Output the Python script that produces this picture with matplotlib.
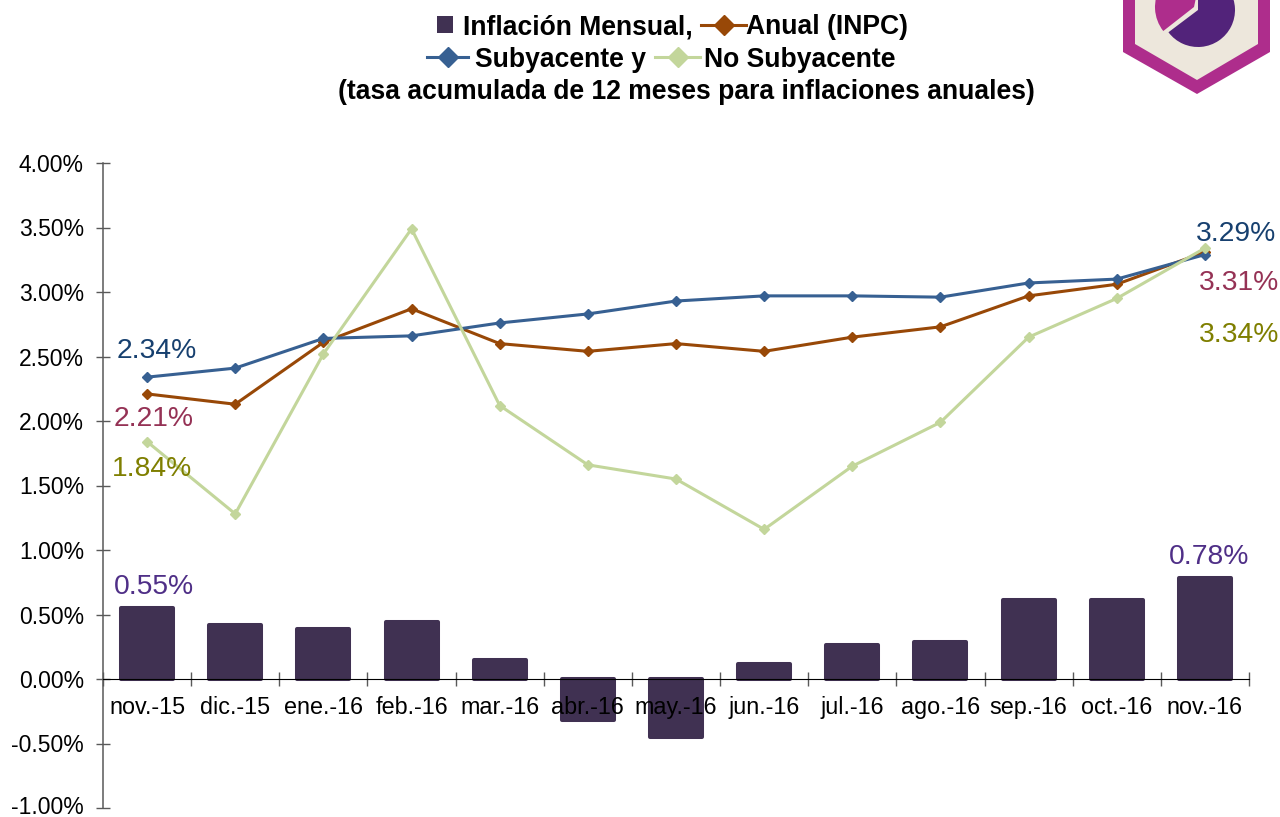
#!/usr/bin/env python3
"""Inflacion mensual y anual, nov-15 a nov-16."""
import matplotlib
matplotlib.use('Agg')
import matplotlib.pyplot as plt
from matplotlib.patches import Polygon, Wedge, Rectangle

plt.rcParams['font.family'] = ['Liberation Sans', 'DejaVu Sans']

meses = ['nov.-15', 'dic.-15', 'ene.-16', 'feb.-16', 'mar.-16', 'abr.-16', 'may.-16',
         'jun.-16', 'jul.-16', 'ago.-16', 'sep.-16', 'oct.-16', 'nov.-16']
mensual = [0.55, 0.42, 0.39, 0.44, 0.15, -0.32, -0.45, 0.12, 0.26, 0.29, 0.61, 0.61, 0.78]
anual = [2.21, 2.13, 2.61, 2.87, 2.60, 2.54, 2.60, 2.54, 2.65, 2.73, 2.97, 3.06, 3.31]
subyacente = [2.34, 2.41, 2.64, 2.66, 2.76, 2.83, 2.93, 2.97, 2.97, 2.96, 3.07, 3.10, 3.29]
no_subyacente = [1.84, 1.28, 2.52, 3.49, 2.12, 1.66, 1.55, 1.16, 1.65, 1.99, 2.65, 2.95, 3.34]
yticks = [-1, -0.5, 0, 0.5, 1, 1.5, 2, 2.5, 3, 3.5, 4]

W, H = 1280, 817
C_BAR, C_ANUAL, C_SUB, C_NOSUB = '#403152', '#984807', '#376092', '#C3D69B'

fig = plt.figure(figsize=(W/100, H/100), dpi=100)
ax = fig.add_axes([103/W, 1-808/H, (1249-103)/W, (808-163)/H])
x = list(range(len(meses)))

ax.bar(x, mensual, width=0.59, color=C_BAR, edgecolor=C_BAR, linewidth=2.9, joinstyle='round', zorder=2)
for vals, col in [(anual, C_ANUAL), (subyacente, C_SUB), (no_subyacente, C_NOSUB)]:
    ax.plot(x, vals, color=col, lw=2.2, marker='D', ms=5.5, zorder=3)

ax.set_xlim(-0.5, 12.5)
ax.set_ylim(-1, 4)
ax.set_yticks(yticks)
ax.set_yticklabels([f'{v:.2f}%' for v in yticks], fontsize=16.5, color='black')
ax.set_xticks([i-0.5 for i in range(14)])
ax.set_xticklabels([])
ax.tick_params(axis='y', direction='inout', length=9.4, width=1, color='#595959', pad=9)
ax.tick_params(axis='x', direction='inout', length=10, width=1, color='#595959')
ax.get_yticklabels()[0].set_va('center')  # evita que -1.00% se corte abajo
for s in ('top', 'right'):
    ax.spines[s].set_visible(False)
ax.spines['left'].set_color('#595959')
ax.spines['left'].set_linewidth(1.1)
ax.spines['bottom'].set_position(('data', 0))
ax.spines['bottom'].set_color('black')
ax.spines['bottom'].set_zorder(4)
for i, m in enumerate(meses):
    ax.text(i, -0.205, m, ha='center', va='center_baseline', fontsize=16.8, color='black', zorder=5)

# etiquetas de datos
etiquetas = [
    (117, 348, '2.34%', '#17406F'), (114, 416, '2.21%', '#953255'), (112, 466, '1.84%', '#7F7F00'),
    (114, 584, '0.55%', '#4F2F87'), (1196, 231, '3.29%', '#17406F'), (1199, 280, '3.31%', '#953255'),
    (1199, 332, '3.34%', '#7F7F00'), (1169, 554, '0.78%', '#4F2F87'),
]
for px, py, t, c in etiquetas:
    fig.text(px/W, 1-py/H, t, color=c, fontsize=20.3, ha='left', va='center_baseline')

# titulo con leyenda
def titulo(px, py, t):
    fig.text(px/W, 1-py/H, t, fontsize=19.1, fontweight='bold', ha='left', va='center_baseline')

titulo(463, 24.5, 'Inflación Mensual,')
titulo(746, 24.5, 'Anual (INPC)')
titulo(475, 57, 'Subyacente y')
titulo(704, 57, 'No Subyacente')
titulo(338, 89, '(tasa acumulada de 12 meses para inflaciones anuales)')

fig.add_artist(Rectangle((437/W, 1-33/H), 16/W, 17/H, transform=fig.transFigure, fc=C_BAR, ec='none'))
for x0, x1, py, c in [(701, 746, 25, C_ANUAL), (427, 468, 57, C_SUB), (655, 700, 57, C_NOSUB)]:
    fig.add_artist(plt.Line2D([x0/W, x1/W], [1-py/H]*2, color=c, lw=2.2, transform=fig.transFigure))
    fig.add_artist(plt.Line2D([(x0+x1)/2/W], [1-py/H], color=c, marker='D', ms=10, transform=fig.transFigure))

# logo (recortado arriba)
over = fig.add_axes([0, 0, 1, 1], facecolor='none')
over.set_xlim(0, W)
over.set_ylim(H, 0)
over.axis('off')
over.add_patch(Polygon([(1123, -5), (1270, -5), (1270, 52), (1197, 94), (1123, 52)], fc='#AE2D8C', ec='none'))
over.add_patch(Polygon([(1135, -5), (1258, -5), (1258, 44), (1197, 80), (1135, 44)], fc='#EDE7DC', ec='none'))
over.add_patch(Wedge((1198, 10), 37, -90, 143, fc='#52237A', ec='none'))
over.add_patch(Wedge((1194, 7), 39, 142, 282, fc='#AE2D8C', ec='none'))

fig.savefig('out.png', dpi=100)
